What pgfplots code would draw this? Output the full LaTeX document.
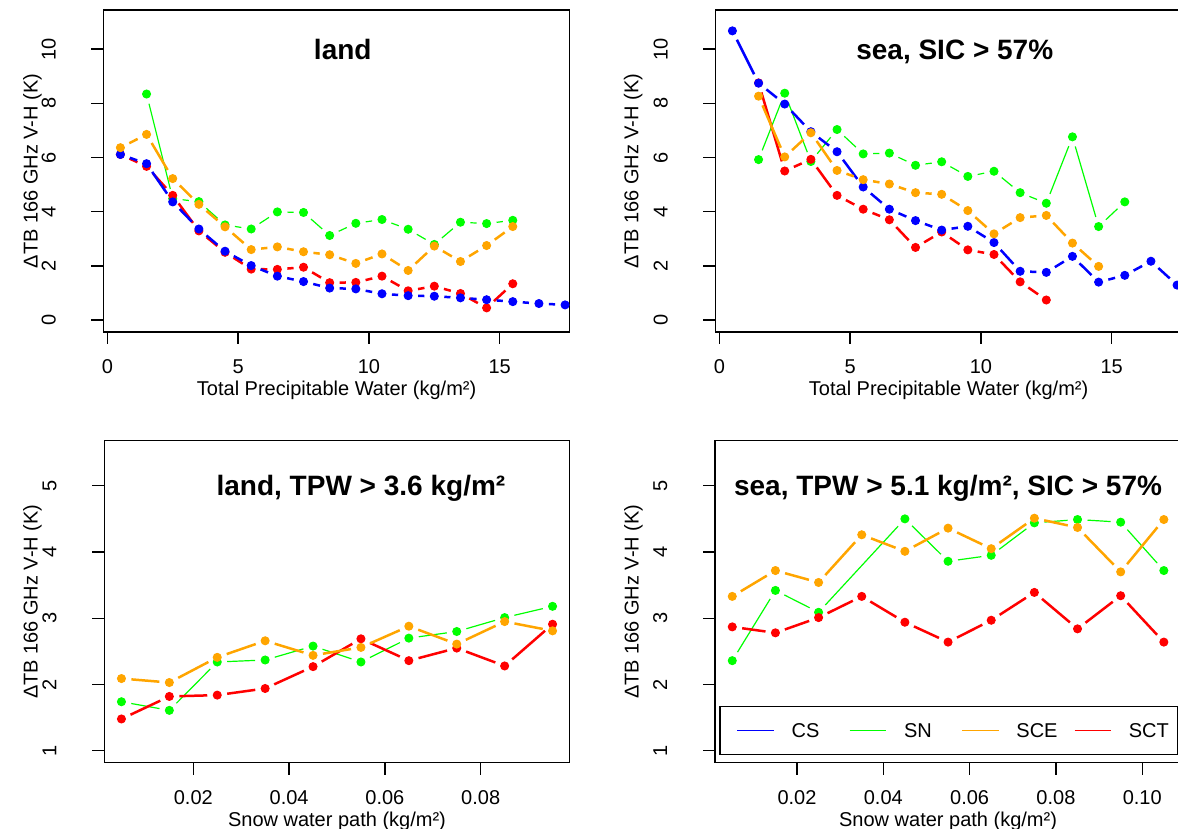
\documentclass[border=0pt]{standalone}
\usepackage{fontspec}
\setmainfont{Liberation Sans}
\usepackage{pgfplots}
\usepackage{pgfplotstable}
\pgfplotsset{compat=1.18}

\definecolor{Rblue}{RGB}{0,0,255}
\definecolor{Rgreen}{RGB}{0,255,0}
\definecolor{Rorange}{RGB}{255,165,0}
\definecolor{Rred}{RGB}{255,0,0}

% ---------------- data ----------------
% top-left: land
\pgfplotstableread{
x y
0.5 6.11
1.5 5.77
2.5 4.36
3.5 3.36
4.5 2.54
5.5 2.01
6.5 1.62
7.5 1.42
8.5 1.18
9.5 1.15
10.5 0.97
11.5 0.90
12.5 0.88
13.5 0.82
14.5 0.75
15.5 0.68
16.5 0.61
17.5 0.56
}\tAcs
\pgfplotstableread{
x y
1.5 8.34
2.5 4.48
3.5 4.37
4.5 3.51
5.5 3.36
6.5 3.99
7.5 3.97
8.5 3.12
9.5 3.57
10.5 3.71
11.5 3.35
12.5 2.79
13.5 3.61
14.5 3.56
15.5 3.68
}\tAsn
\pgfplotstableread{
x y
0.5 6.36
1.5 6.85
2.5 5.22
3.5 4.27
4.5 3.44
5.5 2.60
6.5 2.70
7.5 2.52
8.5 2.41
9.5 2.09
10.5 2.44
11.5 1.83
12.5 2.73
13.5 2.16
14.5 2.75
15.5 3.45
}\tAsce
\pgfplotstableread{
x y
0.5 6.11
1.5 5.67
2.5 4.60
3.5 3.29
4.5 2.50
5.5 1.88
6.5 1.87
7.5 1.95
8.5 1.38
9.5 1.39
10.5 1.62
11.5 1.08
12.5 1.25
13.5 0.98
14.5 0.45
15.5 1.34
}\tAsct
% top-right: sea, SIC > 57%
\pgfplotstableread{
x y
0.5 10.67
1.5 8.74
2.5 7.97
3.5 6.95
4.5 6.21
5.5 4.91
6.5 4.09
7.5 3.67
8.5 3.32
9.5 3.46
10.5 2.86
11.5 1.80
12.5 1.76
13.5 2.35
14.5 1.40
15.5 1.65
16.5 2.17
17.5 1.29
}\tBcs
\pgfplotstableread{
x y
1.5 5.92
2.5 8.37
3.5 5.85
4.5 7.03
5.5 6.13
6.5 6.16
7.5 5.71
8.5 5.84
9.5 5.30
10.5 5.49
11.5 4.70
12.5 4.31
13.5 6.76
14.5 3.45
15.5 4.36
}\tBsn
\pgfplotstableread{
x y
1.5 8.26
2.5 6.02
3.5 6.91
4.5 5.52
5.5 5.18
6.5 5.02
7.5 4.70
8.5 4.64
9.5 4.04
10.5 3.18
11.5 3.78
12.5 3.86
13.5 2.84
14.5 1.98
}\tBsce
\pgfplotstableread{
x y
1.5 8.75
2.5 5.50
3.5 5.93
4.5 4.60
5.5 4.09
6.5 3.70
7.5 2.68
8.5 3.25
9.5 2.59
10.5 2.42
11.5 1.41
12.5 0.74
}\tBsct
% bottom-left: land, TPW > 3.6
\pgfplotstableread{
x y
0.005 1.74
0.015 1.61
0.025 2.34
0.035 2.37
0.045 2.58
0.055 2.34
0.065 2.70
0.075 2.80
0.085 3.01
0.095 3.18
}\tCsn
\pgfplotstableread{
x y
0.005 2.09
0.015 2.03
0.025 2.41
0.035 2.66
0.045 2.44
0.055 2.56
0.065 2.88
0.075 2.61
0.085 2.95
0.095 2.81
}\tCsce
\pgfplotstableread{
x y
0.005 1.48
0.015 1.82
0.025 1.84
0.035 1.94
0.045 2.27
0.055 2.69
0.065 2.36
0.075 2.55
0.085 2.28
0.095 2.91
}\tCsct
% bottom-right: sea, TPW > 5.1, SIC > 57%
\pgfplotstableread{
x y
0.005 2.36
0.015 3.42
0.025 3.09
0.045 4.50
0.055 3.86
0.065 3.95
0.075 4.44
0.085 4.49
0.095 4.45
0.105 3.72
}\tDsn
\pgfplotstableread{
x y
0.005 3.33
0.015 3.72
0.025 3.54
0.035 4.26
0.045 4.01
0.055 4.36
0.065 4.05
0.075 4.51
0.085 4.37
0.095 3.70
0.105 4.49
}\tDsce
\pgfplotstableread{
x y
0.005 2.87
0.015 2.78
0.025 3.01
0.035 3.33
0.045 2.94
0.055 2.64
0.065 2.97
0.075 3.39
0.085 2.84
0.095 3.34
0.105 2.64
}\tDsct

% differences to the next point (for R type="b" gapped segments)
\newcommand\addsegcols[1]{%
  \pgfplotstablecreatecol[create col/assign/.code={%
    \pgfmathtruncatemacro\lastrow{\pgfplotstablerows-1}%
    \ifnum\pgfplotstablerow<\lastrow\relax
      \getnextrow{x}\nxv \getthisrow{x}\thv
      \pgfmathsetmacro\res{\nxv-\thv}%
    \else\def\res{0}\fi
    \pgfkeyslet{/pgfplots/table/create col/next content}\res}]{dx}#1%
  \pgfplotstablecreatecol[create col/assign/.code={%
    \pgfmathtruncatemacro\lastrow{\pgfplotstablerows-1}%
    \ifnum\pgfplotstablerow<\lastrow\relax
      \getnextrow{y}\nxv \getthisrow{y}\thv
      \pgfmathsetmacro\res{\nxv-\thv}%
    \else\def\res{0}\fi
    \pgfkeyslet{/pgfplots/table/create col/next content}\res}]{dy}#1%
}
\addsegcols\tAcs \addsegcols\tAsn \addsegcols\tAsce \addsegcols\tAsct
\addsegcols\tBcs \addsegcols\tBsn \addsegcols\tBsce \addsegcols\tBsct
\addsegcols\tCsn \addsegcols\tCsce \addsegcols\tCsct
\addsegcols\tDsn \addsegcols\tDsce \addsegcols\tDsct

% #1 table, #2 colour, #3 line width, #4 index of last row
\newcommand\series[4]{%
  \addplot[-, #2, line width=#3, no markers, forget plot,
    quiver={u=\thisrow{dx}, v=\thisrow{dy},
      every arrow/.append style={shorten <=5pt, shorten >=5pt}},
    skip coords between index={#4}{1000}] table[x=x,y=y]{#1};
  \addplot[#2, only marks, mark=*, mark size=2pt,
    mark options={solid, line width=0.5pt}, forget plot] table[x=x,y=y]{#1};
}

\pgfplotsset{
  Rbase/.style={
    scale only axis, width=233pt, height=161pt, anchor=south west,
    axis line style={line width=0.65pt},
    every tick/.style={black, line width=0.65pt},
    tick align=outside, major tick length=6pt,
    xtick pos=bottom, ytick pos=left,
    tick label style={font=\fontsize{10}{12}\selectfont},
    /pgf/number format/assume math mode=true,
    xticklabel style={anchor=base, yshift=-15pt},
    yticklabel style={xshift=-17.9pt, rotate=90, anchor=base},
    label style={font=\fontsize{10}{12}\selectfont},
    every axis x label/.style={at={(axis description cs:0.5,-0.1978)}, anchor=base},
    clip=true,
  },
  ylab/.style={every axis y label/.style={at={(axis description cs:#1,0.5)}, rotate=90, anchor=base}},
  toprow/.style={Rbase, xmin=-0.15, xmax=17.68, ymin=-0.44, ymax=11.44,
    xtick={0,5,10,15}, ytick={0,2,4,6,8,10},
    xlabel={Total Precipitable Water (kg/m²)}, ylabel={ΔTB 166 GHz V-H (K)}},
  botrow/.style={Rbase, ymin=0.82, ymax=5.68, ytick={1,2,3,4,5},
    scaled x ticks=false,
    x tick label style={/pgf/number format/fixed, /pgf/number format/fixed zerofill, /pgf/number format/precision=2},
    xlabel={Snow water path (kg/m²)}, ylabel={ΔTB 166 GHz V-H (K)}},
}
\newcommand\ttl[3]{\node[font=\bfseries\fontsize{14}{16.8}\selectfont, anchor=base, inner sep=0pt, yshift=-5pt] at (axis cs:#1,#2) {#3};}

\begin{document}
\begin{tikzpicture}
% ---------- top-left ----------
\begin{axis}[toprow, ylab=-0.141, at={(51.7pt,248.5pt)}, width=233.2pt]
\series{\tAsn}{Rgreen}{0.6pt}{14}
\series{\tAsct}{Rred}{1.25pt}{15}
\series{\tAcs}{Rblue}{1.25pt}{17}
\series{\tAsce}{Rorange}{1.25pt}{15}
\ttl{9}{10}{land}
\end{axis}
% ---------- top-right ----------
\begin{axis}[toprow, ylab=-0.165, at={(357.7pt,248.5pt)}, width=233.2pt]
\series{\tBsn}{Rgreen}{0.6pt}{14}
\series{\tBsct}{Rred}{1.25pt}{11}
\series{\tBcs}{Rblue}{1.25pt}{17}
\series{\tBsce}{Rorange}{1.25pt}{13}
\ttl{9}{10}{sea, SIC > 57\%}
\end{axis}
% ---------- bottom-left ----------
\begin{axis}[botrow, ylab=-0.143, at={(52.1pt,33.15pt)}, width=232.8pt,
  xmin=0.0014, xmax=0.0986, xtick={0.02,0.04,0.06,0.08}]
\series{\tCsn}{Rgreen}{0.6pt}{9}
\series{\tCsct}{Rred}{1.25pt}{9}
\series{\tCsce}{Rorange}{1.25pt}{9}
\ttl{0.055}{5}{land, TPW > 3.6 kg/m²}
\end{axis}
% ---------- bottom-right ----------
\begin{axis}[botrow, ylab=-0.164, at={(357.5pt,33.15pt)}, width=233.05pt,
  xmin=0.001, xmax=0.109, xtick={0.02,0.04,0.06,0.08,0.10},
  legend columns=4,
  legend style={at={(0.0092,0.0239)}, anchor=south west, draw=black, line width=0.65pt,
    inner sep=0pt, column sep=0pt, row sep=0pt,
    font=\fontsize{10}{12}\selectfont, nodes={inner sep=0pt, anchor=base west}},
  legend image code/.code={\path[draw=none, fill=none] (-8.7pt,-8.35pt) rectangle (27.15pt,15.5pt);
    \draw[#1] (0pt,3.58pt) -- (18.3pt,3.58pt);},
  legend cell align=left]
\series{\tDsn}{Rgreen}{0.6pt}{9}
\series{\tDsct}{Rred}{1.25pt}{10}
\series{\tDsce}{Rorange}{1.25pt}{10}
\ttl{0.055}{5}{sea, TPW > 5.1 kg/m², SIC > 57\%}
\addlegendimage{draw=Rblue, line width=0.55pt}\addlegendentry{\makebox[20.35pt][l]{CS}}
\addlegendimage{draw=Rgreen, line width=0.55pt}\addlegendentry{\makebox[20.35pt][l]{SN}}
\addlegendimage{draw=Rorange, line width=0.55pt}\addlegendentry{\makebox[20.35pt][l]{SCE}}
\addlegendimage{draw=Rred, line width=0.55pt}\addlegendentry{\makebox[24.25pt][l]{SCT}}
\end{axis}
\pgfresetboundingbox
\useasboundingbox (0,0) rectangle (589pt,414.5pt);
\end{tikzpicture}
\end{document}
